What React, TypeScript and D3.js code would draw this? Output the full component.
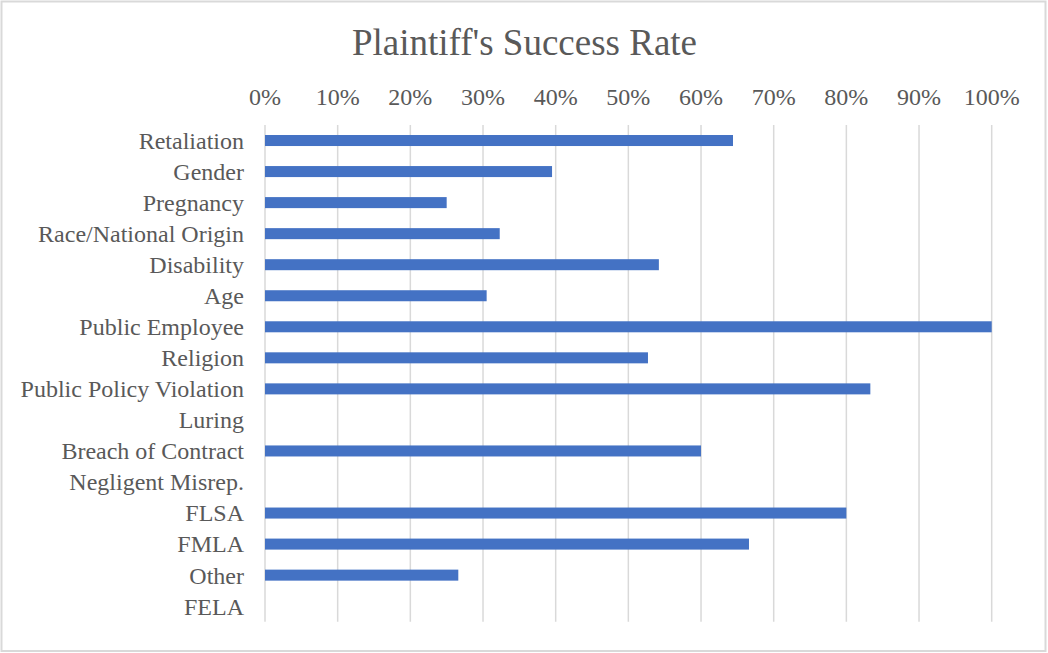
import React from "react";
import * as d3 from "d3";

const categories = [
  "Retaliation", "Gender", "Pregnancy", "Race/National Origin", "Disability", "Age",
  "Public Employee", "Religion", "Public Policy Violation", "Luring", "Breach of Contract",
  "Negligent Misrep.", "FLSA", "FMLA", "Other", "FELA",
];
const successRate = [
  0.644, 0.395, 0.25, 0.323, 0.542, 0.305, 1.0, 0.527, 0.833, 0, 0.6, 0, 0.8, 0.666, 0.266, 0,
];
const tickValues = [0, 0.1, 0.2, 0.3, 0.4, 0.5, 0.6, 0.7, 0.8, 0.9, 1.0];

const W = 1048;
const H = 653;
const FONT = "'Liberation Serif', 'Times New Roman', serif";
const TEXT = "#595959";

export default function App() {
  const x = d3.scaleLinear().domain([0, 1]).range([265, 991.7]);
  const y = d3.scaleBand<string>().domain(categories).range([125, 621.7]).paddingInner(0.645).paddingOuter(0.3225);
  const fmt = d3.format(".0%");
  const band = y.step();
  return (
    <div style={{ position: "fixed", left: 0, top: 0 }}>
      <svg width={W} height={H} style={{ display: "block", background: "#fff" }}>
        <rect x={1.5} y={1.5} width={W - 4} height={H - 3.5} fill="#fff" stroke="#d9d9d9" strokeWidth={2} />
        <text x={524.5} y={55} textAnchor="middle" fontFamily={FONT} fontSize={37} fill={TEXT}>
          Plaintiff's Success Rate
        </text>
        {tickValues.map((t) => (
          <g key={t}>
            <line x1={x(t)} x2={x(t)} y1={125} y2={621.7} stroke="#d9d9d9" strokeWidth={1.5} />
            <text x={x(t)} y={105} textAnchor="middle" fontFamily={FONT} fontSize={24} fill={TEXT}>
              {fmt(t)}
            </text>
          </g>
        ))}
        {categories.map((c, i) => (
          <g key={c}>
            {successRate[i] > 0 && (
              <rect x={x(0)} y={y(c)!} width={x(successRate[i]) - x(0)} height={y.bandwidth()} fill="#4472C4" />
            )}
            <text
              x={244}
              y={(y(c)! + y.bandwidth() / 2)}
              dy="0.35em"
              textAnchor="end"
              fontFamily={FONT}
              fontSize={24}
              fill={TEXT}
            >
              {c}
            </text>
          </g>
        ))}
      </svg>
    </div>
  );
}
